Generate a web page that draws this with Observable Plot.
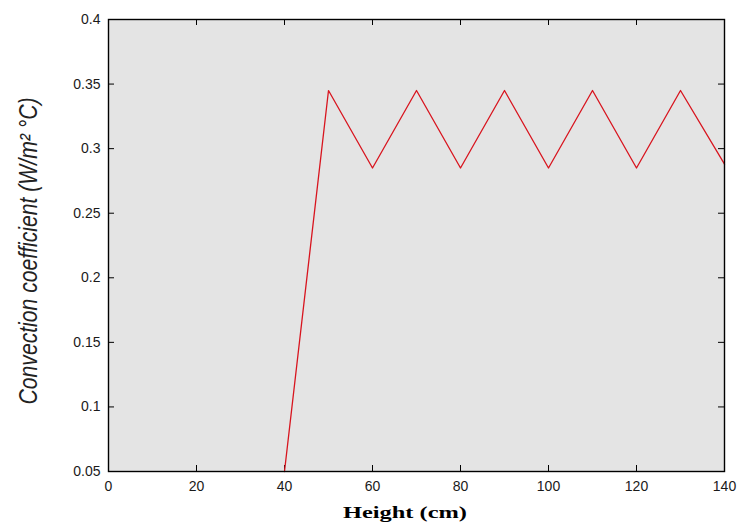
<!DOCTYPE html>
<html><head><meta charset="utf-8">
<script src="https://cdn.jsdelivr.net/npm/d3@7"></script>
<script src="https://cdn.jsdelivr.net/npm/@observablehq/plot@0.6"></script>
<style>body{margin:0;background:#fff}</style>
</head><body><div id="chart"></div>
<script>
const heights = [40, 50, 60, 70, 80, 90, 100, 110, 120, 130, 140];
const coefficients = [0.05, 0.345, 0.285, 0.345, 0.285, 0.345, 0.285, 0.345, 0.285, 0.345, 0.288];
const xTicks = [0, 20, 40, 60, 80, 100, 120, 140];
const yTicks = [0.05, 0.1, 0.15, 0.2, 0.25, 0.3, 0.35, 0.4];
const xLabel = "Height (cm)";
const yLabel = "Convection coefficient (W/m² °C)";

const data = heights.map((h, i) => ({h, c: coefficients[i]}));
const W = 740, H = 526, mT = 19, mB = 55, mL = 108, mR = 16;
const ph = H - mT - mB, pw = W - mL - mR, tk = 6;

const chart = Plot.plot({
  width: W, height: H,
  marginTop: mT, marginBottom: mB, marginLeft: mL, marginRight: mR,
  style: {fontFamily: "Liberation Sans, Arial, sans-serif", fontSize: "14px", background: "#fff", color: "#1a1a1a"},
  x: {domain: [0, 140]},
  y: {domain: [0.05, 0.4]},
  marks: [
    Plot.frame({fill: "#e4e4e4"}),
    Plot.tickX(xTicks, {x: d => d, insetTop: ph - tk, stroke: "#000"}),
    Plot.tickX(xTicks, {x: d => d, insetBottom: ph - tk, stroke: "#000"}),
    Plot.tickY(yTicks, {y: d => d, insetRight: pw - tk, stroke: "#000"}),
    Plot.tickY(yTicks, {y: d => d, insetLeft: pw - tk, stroke: "#000"}),
    Plot.line(data, {x: "h", y: "c", stroke: "#d8141e", strokeWidth: 1.3}),
    Plot.frame({stroke: "#000", strokeWidth: 1.4}),
    Plot.axisX(xTicks, {tickSize: 0, tickPadding: 10, label: null, fontSize: 14}),
    Plot.axisY(yTicks, {tickSize: 0, tickPadding: 8, label: null, fontSize: 14, tickFormat: d => String(+d.toFixed(2))})
  ]
});

const svg = d3.select(chart);
svg.append("text")
  .attr("transform", "translate(37,251) rotate(-90)")
  .attr("text-anchor", "middle")
  .attr("font-family", "Liberation Sans Narrow, Liberation Sans, sans-serif")
  .attr("font-style", "italic")
  .attr("font-size", 26)
  .attr("fill", "#222")
  .attr("textLength", 307)
  .attr("lengthAdjust", "spacingAndGlyphs")
  .text(yLabel);
svg.append("text")
  .attr("x", 405).attr("y", 518)
  .attr("text-anchor", "middle")
  .attr("font-family", "Liberation Serif, serif")
  .attr("font-weight", "bold")
  .attr("font-size", 17)
  .attr("fill", "#000")
  .attr("textLength", 124)
  .attr("lengthAdjust", "spacingAndGlyphs")
  .text(xLabel);

document.getElementById("chart").append(chart);
</script>
</body></html>
